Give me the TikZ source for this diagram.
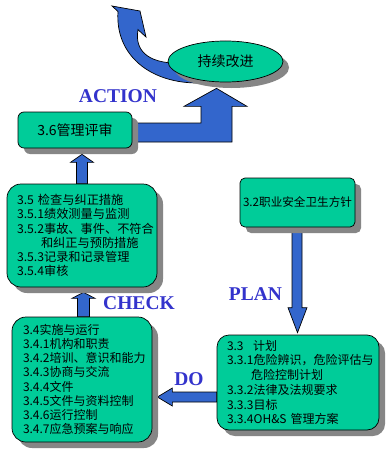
\documentclass[tikz,border=0pt]{standalone}
\usepackage{fontspec}
\newfontfamily\cjk{Noto Sans CJK SC}
\newfontfamily\lab{Liberation Serif}
\usetikzlibrary{shadows,calc,shapes.geometric}
\definecolor{boxgreen}{HTML}{00CC99}
\definecolor{arrowblue}{HTML}{3366CC}
\definecolor{labelblue}{HTML}{3333CC}
\definecolor{shadowgray}{HTML}{868686}
\pgfdeclarelayer{bg}
\pgfsetlayers{bg,main}
\begin{document}
\begin{tikzpicture}[x=1pt,y=-1pt,
  shadowed/.style={drop shadow={shadow xshift=6pt,shadow yshift=-6pt,fill=shadowgray,opacity=1}},
  box/.style={draw=black,line width=0.7pt,fill=boxgreen,shadowed,text=black,font=\cjk},
  lbl/.style={text=labelblue,inner sep=0pt,font=\lab\bfseries\fontsize{19.5}{20}\selectfont},
  blockarrow/.style={fill=arrowblue,draw=black,line width=0.7pt,line join=miter}]
\useasboundingbox (0,0) rectangle (391,460);
\begin{pgfonlayer}{bg}
\fill[white] (0,0) rectangle (391,460);
\end{pgfonlayer}

% nodes
\node[box,ellipse,minimum width=115pt,minimum height=41pt,inner sep=0pt,
  font=\cjk\fontsize{14}{16}\selectfont] (ell) at (225.5,61.5) {持续改进};
\node[box,rounded corners=6pt,minimum width=114pt,minimum height=36pt,
  font=\cjk\fontsize{14}{16}\selectfont] (b36) at (75,130) {3.6管理评审};
\node[box,rounded corners=14pt,minimum width=150pt,minimum height=103pt,
  text width=130pt,inner xsep=10pt,inner ysep=0pt,align=left,
  font=\cjk\fontsize{12.2}{14.3}\selectfont] (b35) at (82,235.5)
  {3.5 检查与纠正措施\\
   3.5.1绩效测量与监测\\
   3.5.2事故、事件、不符合\\
   \hspace*{24pt}和纠正与预防措施\\
   3.5.3记录和记录管理\\
   3.5.4审核};
\node[box,rounded corners=14pt,minimum width=140pt,minimum height=125pt,
  text width=118pt,inner xsep=11pt,inner ysep=0pt,align=left,
  font=\cjk\fontsize{12}{14.15}\selectfont] (b34) at (82,379.5)
  {3.4实施与运行\\
   3.4.1机构和职责\\
   3.4.2培训、意识和能力\\
   3.4.3协商与交流\\
   3.4.4文件\\
   3.4.5文件与资料控制\\
   3.4.6运行控制\\
   3.4.7应急预案与响应};
\node[box,rounded corners=12pt,minimum width=162pt,minimum height=95pt,
  text width=142pt,inner xsep=10pt,inner ysep=0pt,align=left,
  font=\cjk\fontsize{12}{14.7}\selectfont] (b33) at (298,382.5)
  {3.3\hspace{9.5pt}计划\\
   3.3.1危险辨识，危险评估与\\
   \hspace*{24pt}危险控制计划\\
   3.3.2法律及法规要求\\
   3.3.3目标\\
   3.3.4OH\&S 管理方案};
\node[box,rounded corners=5pt,minimum width=115pt,minimum height=49pt,inner sep=0.5pt,
  font=\cjk\fontsize{11.6}{13}\selectfont] (b32) at (297.5,202.5) {3.2职业安全卫生方针};

% labels
\node[lbl] (action) at (118,96) {ACTION};
\node[lbl] (check) at (139,303.5) {CHECK};
\node[lbl] (plan) at (255.5,294) {PLAN};
\node[lbl] (do) at (189,379.5) {DO};

% connectors (block arrows) behind the boxes
\begin{pgfonlayer}{bg}
% 3.5 -> 3.6
\draw[blockarrow] ($(b35.north)+(-5.5,0)$) -- ($(b35.north |- b36.south)+(-5.5,14)$)
  -- ($(b35.north |- b36.south)+(-11.5,14)$) -- ($(b35.north |- b36.south)+(0,6)$)
  -- ($(b35.north |- b36.south)+(11.5,14)$) -- ($(b35.north |- b36.south)+(5.5,14)$)
  -- ($(b35.north)+(5.5,0)$) -- cycle;
% 3.4 -> 3.5
\draw[blockarrow] ($(b34.north)+(-4.5,0)$) -- ($(b34.north |- b35.south)+(-4.5,11)$)
  -- ($(b34.north |- b35.south)+(-10,11)$) -- ($(b34.north |- b35.south)+(1.5,5)$)
  -- ($(b34.north |- b35.south)+(13,11)$) -- ($(b34.north |- b35.south)+(7.5,11)$)
  -- ($(b34.north)+(7.5,0)$) -- cycle;
% 3.3 -> 3.4
\coordinate (cC) at ($(b33.west)+(0,14.5)$);
\draw[blockarrow] ($(cC)+(0,-5)$) -- ($(b34.east |- cC)+(20,-5)$)
  -- ($(b34.east |- cC)+(20,-9)$) -- ($(b34.east |- cC)+(5,0)$)
  -- ($(b34.east |- cC)+(20,9)$) -- ($(b34.east |- cC)+(20,5)$)
  -- ($(cC)+(0,5)$) -- cycle;
% 3.2 -> 3.3
\draw[blockarrow] ($(b32.south)+(-5.5,0)$) -- ($(b32.south |- b33.north)+(-5.5,-27)$)
  -- ($(b32.south |- b33.north)+(-9.5,-27)$) -- ($(b32.south |- b33.north)+(0,-2)$)
  -- ($(b32.south |- b33.north)+(9.5,-27)$) -- ($(b32.south |- b33.north)+(4.5,-27)$)
  -- ($(b32.south)+(4.5,0)$) -- cycle;
% 3.6 -> 持续改进
\coordinate (eS) at ($(b36.east)+(0,2.5)$);
\coordinate (eT) at ($(ell.south)+(-9,6)$);
\draw[blockarrow] ($(eS)+(0,-9.5)$) -- ($(eT |- eS)+(-15.5,-9.5)$)
  -- ($(eT)+(-15.5,18)$) -- ($(eT)+(-32.5,18)$) -- (eT)
  -- ($(eT)+(30.5,18)$) -- ($(eT)+(15.5,18)$)
  -- ($(eT |- eS)+(15.5,9.5)$) -- ($(eS)+(0,9.5)$) -- cycle;
% curved arrow out of 持续改进
\coordinate (fEnd) at (140,11);
\draw[blockarrow] ($(ell.center)+(-25,21.5)$) .. controls (150,84) and (115,55) .. (118,11.5)
  -- (112,6) -- (fEnd) -- (146,37) -- (138,29.7)
  .. controls (134,52) and (150,65) .. ($(ell.center)+(-40.5,1.5)$) -- cycle;
\end{pgfonlayer}
\end{tikzpicture}
\end{document}
